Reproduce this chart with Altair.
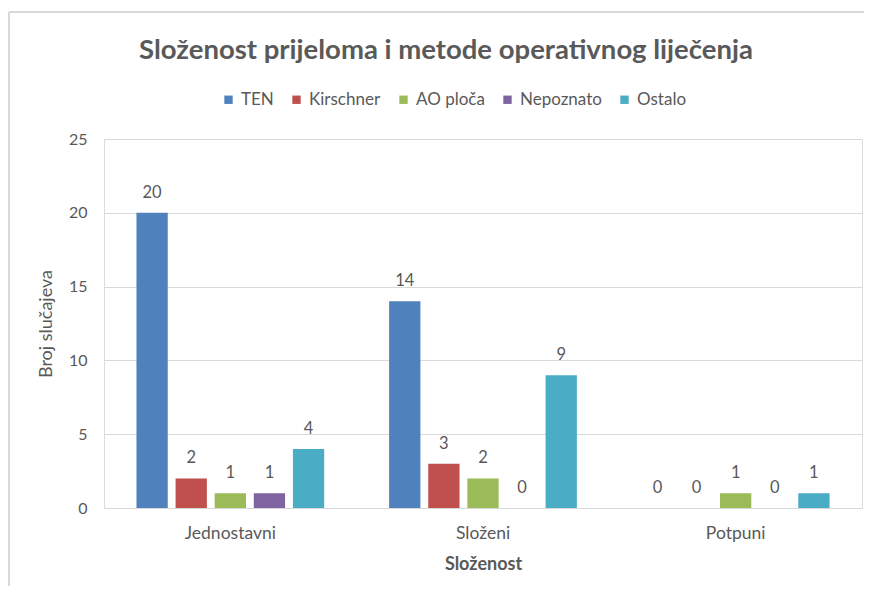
import altair as alt
import pandas as pd

categories = ["Jednostavni", "Složeni", "Potpuni"]
series = ["TEN", "Kirschner", "AO ploča", "Nepoznato", "Ostalo"]
ten = [20, 14, 0]
kirschner = [2, 3, 0]
ao_ploca = [1, 2, 1]
nepoznato = [1, 0, 0]
ostalo = [4, 9, 1]
colors = ["#4F81BD", "#C0504D", "#9BBB59", "#8064A2", "#4BACC6"]
y_ticks = [0, 5, 10, 15, 20, 25]

series_values = [ten, kirschner, ao_ploca, nepoznato, ostalo]
rows = []
for s, vals in zip(series, series_values):
    for c, v in zip(categories, vals):
        rows.append({"Složenost": c, "Metoda": s, "Broj": v})
df = pd.DataFrame(rows)

FONT = "Lato"
GRAY = "#595959"

W, H = 758, 369

x_enc = alt.X(
    "Složenost:N",
    sort=categories,
    scale=alt.Scale(paddingInner=0.226, paddingOuter=0.113),
    axis=alt.Axis(
        title="Složenost", labelAngle=0, ticks=False, domain=True,
        domainColor="#d9d9d9", domainWidth=1, labelPadding=16,
        labelFontSize=17.5, labelColor=GRAY, labelFont=FONT,
        titleFontSize=18, titleFont=FONT, titleColor=GRAY,
        titleFontWeight="bold", titlePadding=14,
    ),
)
xoff_enc = alt.XOffset(
    "Metoda:N", sort=series,
    scale=alt.Scale(paddingInner=0.2, paddingOuter=0.1),
)
y_enc = alt.Y(
    "Broj:Q",
    scale=alt.Scale(domain=[0, 25], nice=False),
    axis=alt.Axis(
        title="Broj slučajeva", values=y_ticks, ticks=False, domain=False,
        grid=True, gridColor="#d9d9d9", labelPadding=17,
        labelFontSize=16, labelColor=GRAY, labelFont=FONT,
        titleFontSize=18, titleFont=FONT, titleColor=GRAY,
        titleFontWeight="normal", titlePadding=13,
    ),
)
color_enc = alt.Color(
    "Metoda:N", sort=series,
    scale=alt.Scale(domain=series, range=colors),
    legend=alt.Legend(
        title=None, orient="none", direction="horizontal",
        legendX=116, legendY=-48, symbolType="square", symbolSize=70,
        symbolStrokeWidth=0, labelFontSize=17, labelFont=FONT,
        labelColor=GRAY, columnPadding=14, labelOffset=4,
    ),
)

base = alt.Chart(df).encode(x=x_enc, xOffset=xoff_enc, y=y_enc)
bars = base.mark_bar().encode(color=color_enc)
labels = base.mark_text(
    baseline="bottom", dy=-12, fontSize=16.5, font=FONT, color=GRAY
).encode(text="Broj:Q")

one = pd.DataFrame({"a": [0]})
frame_left = alt.Chart(one).mark_rule(color="#d9d9d9", strokeWidth=2).encode(
    x=alt.value(-95), y=alt.value(-127), y2=alt.value(H + 150)
)
frame_top = alt.Chart(one).mark_rule(color="#d9d9d9", strokeWidth=2).encode(
    x=alt.value(-95), x2=alt.value(W + 60), y=alt.value(-127)
)

chart = (
    alt.layer(frame_left, frame_top, bars, labels)
    .properties(
        width=W, height=H,
        title=alt.TitleParams(
            "Složenost prijeloma i metode operativnog liječenja",
            fontSize=27.5, fontWeight="bold", color=GRAY, font=FONT,
            anchor="middle", frame="group", dx=-37, offset=-53,
        ),
        autosize=alt.AutoSizeParams(type="none"),
        padding={"left": 96, "top": 131, "right": 2, "bottom": 78},
    )
    .configure_view(stroke=None)
    .configure(background="white")
)

chart.save("out.html", embed_options={"renderer": "svg", "actions": False})
